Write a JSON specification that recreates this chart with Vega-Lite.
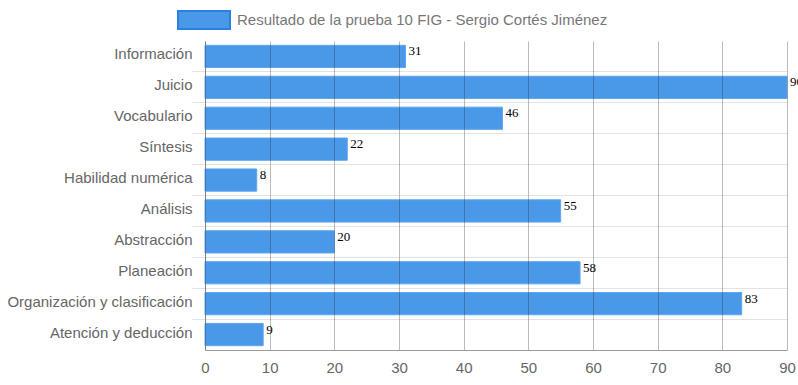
{
  "$schema": "https://vega.github.io/schema/vega-lite/v6.json",
  "autosize": {"type": "none"},
  "width": 582,
  "height": 309,
  "padding": {"left": 205, "top": 41, "right": 11, "bottom": 35},
  "background": "white",
  "config": {"view": {"stroke": null}, "font": "Liberation Sans"},
  "data": {"values": [
    {"cat": "Información", "v": 31, "s": "Resultado de la prueba 10 FIG - Sergio Cortés Jiménez"},
    {"cat": "Juicio", "v": 90, "s": "Resultado de la prueba 10 FIG - Sergio Cortés Jiménez"},
    {"cat": "Vocabulario", "v": 46, "s": "Resultado de la prueba 10 FIG - Sergio Cortés Jiménez"},
    {"cat": "Síntesis", "v": 22, "s": "Resultado de la prueba 10 FIG - Sergio Cortés Jiménez"},
    {"cat": "Habilidad numérica", "v": 8, "s": "Resultado de la prueba 10 FIG - Sergio Cortés Jiménez"},
    {"cat": "Análisis", "v": 55, "s": "Resultado de la prueba 10 FIG - Sergio Cortés Jiménez"},
    {"cat": "Abstracción", "v": 20, "s": "Resultado de la prueba 10 FIG - Sergio Cortés Jiménez"},
    {"cat": "Planeación", "v": 58, "s": "Resultado de la prueba 10 FIG - Sergio Cortés Jiménez"},
    {"cat": "Organización y clasificación", "v": 83, "s": "Resultado de la prueba 10 FIG - Sergio Cortés Jiménez"},
    {"cat": "Atención y deducción", "v": 9, "s": "Resultado de la prueba 10 FIG - Sergio Cortés Jiménez"}
  ]},
  "encoding": {
    "y": {
      "field": "cat", "type": "nominal", "sort": null, "title": null,
      "scale": {"paddingInner": 0, "paddingOuter": 0},
      "axis": {
        "bandPosition": 0,
        "grid": true,
        "gridColor": {"condition": {"test": "datum.value === 'Información'", "value": "transparent"}, "value": "#e3e3e3"},
        "tickColor": {"condition": {"test": "datum.value === 'Información'", "value": "transparent"}, "value": "#e3e3e3"},
        "tickSize": 13,
        "tickWidth": 1,
        "gridWidth": 1,
        "labelBound": false,
        "labelLimit": 400,
        "labelFontSize": 15,
        "labelColor": "#666666",
        "labelPadding": 0,
        "labelOffset": -2,
        "domainColor": "#aaaaaa",
        "domainWidth": 1,
        "zindex": 0
      }
    }
  },
  "layer": [
    {
      "mark": {"type": "bar", "height": {"band": 0.72}, "stroke": "#5ea6ee", "strokeWidth": 1, "opacity": 1},
      "encoding": {
        "x": {
          "field": "v", "type": "quantitative", "title": null,
          "scale": {"domain": [0, 90], "nice": false},
          "axis": {
            "values": [0, 10, 20, 30, 40, 50, 60, 70, 80, 90],
            "grid": true,
            "gridColor": "#222222",
            "gridOpacity": 0.3,
            "gridWidth": 1,
            "ticks": false,
            "labelFontSize": 15,
            "labelColor": "#666666",
            "labelPadding": 10,
            "labelFlush": false,
            "domainColor": "#999999",
            "domainWidth": 1,
            "zindex": 1
          }
        },
        "color": {
          "field": "s", "type": "nominal",
          "scale": {"range": ["#4a98e8"]},
          "legend": {
            "title": null,
            "orient": "none",
            "legendX": -28,
            "legendY": -48,
            "symbolType": "M-1,-0.346H1V0.346H-1Z",
            "symbolSize": 2704,
            "symbolStrokeColor": "#2a7fe0",
            "symbolStrokeWidth": 2,
            "symbolOpacity": 1,
            "labelFontSize": 15,
            "labelColor": "#777777",
            "labelLimit": 500,
            "labelOffset": 6
          }
        }
      }
    },
    {
      "mark": {"type": "text", "align": "left", "baseline": "middle", "dx": 3, "dy": -5, "font": "Liberation Serif", "fontSize": 13, "color": "#000000"},
      "encoding": {
        "x": {"field": "v", "type": "quantitative"},
        "text": {"field": "v", "type": "quantitative"}
      }
    }
  ]
}
